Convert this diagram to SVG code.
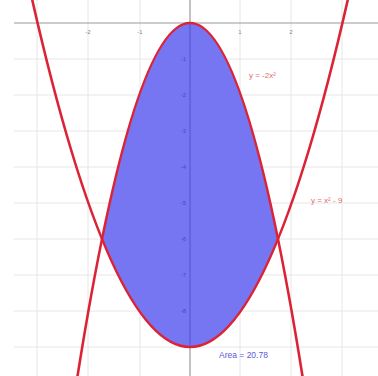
<svg xmlns="http://www.w3.org/2000/svg" width="378" height="376" viewBox="0 0 378 376">
<style>
.grid{stroke:#e6e6e6;stroke-width:1;fill:none}
.axis{stroke:#9a9a9a;stroke-width:1.2;fill:none}
.tick{font-family:"Liberation Sans",Arial,sans-serif;font-size:6px;fill:#8a8a8a}
.curve{stroke:#dc2336;stroke-width:2.6;fill:none}
.lbl{font-family:"Liberation Sans",Arial,sans-serif;font-size:8px;fill:#e06a6a}
</style>
<rect width="378" height="376" fill="#ffffff"/>
<g id="grid">
<path class="grid" d="M37 0V376M88 0V376M140 0V376M240 0V376M291 0V376M342 0V376M14 59H378M14 95H378M14 131H378M14 167H378M14 203H378M14 239H378M14 275H378M14 311H378M14 347H378"/>
</g>
<g id="region">
<path d="M102 239 Q190 -193 278 239 Q190 455 102 239 Z" fill="#7676f2"/>
</g>
<g id="axes">
<path class="axis" d="M14 23H378"/>
<path d="M190 0V23" class="axis"/>
<path d="M190 23V347" stroke="#5a5ad8" stroke-width="1.2"/>
<path d="M190 347V376" class="axis"/>
</g>
<g id="ticks">
<text class="tick" x="88" y="34" text-anchor="middle">-2</text>
<text class="tick" x="140" y="34" text-anchor="middle">-1</text>
<text class="tick" x="240" y="34" text-anchor="middle">1</text>
<text class="tick" x="291" y="34" text-anchor="middle">2</text>
<g fill="#4a4ab0" font-family="Liberation Sans, Arial, sans-serif" font-size="6" text-anchor="end">
<text x="186" y="61">-1</text>
<text x="186" y="97">-2</text>
<text x="186" y="133">-3</text>
<text x="186" y="169">-4</text>
<text x="186" y="205">-5</text>
<text x="186" y="241">-6</text>
<text x="186" y="277">-7</text>
<text x="186" y="313">-8</text>
</g>
</g>
<g id="curves">
<path class="curve" d="M75 392 Q190 -346 305 392"/>
<path class="curve" d="M30 -10 Q190 704 350 -10"/>
</g>
<g id="labels">
<text class="lbl" x="249" y="78">y = -2x²</text>
<text class="lbl" x="311" y="203">y = x² - 9</text>
<text x="219" y="358" font-family="Liberation Sans, Arial, sans-serif" font-size="8.5" fill="#5a5ad8">Area = 20.78</text>
</g>
</svg>
